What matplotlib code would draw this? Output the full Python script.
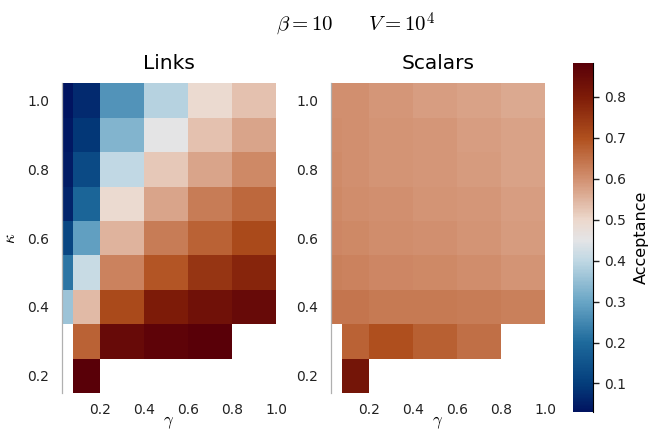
import numpy as np
import matplotlib
matplotlib.use("Agg")
import matplotlib.pyplot as plt
from matplotlib.colors import LinearSegmentedColormap, Normalize

plt.rcParams['mathtext.fontset'] = 'cm'
plt.rcParams['font.family'] = 'DejaVu Sans'

# grid centres
gamma = [0.05, 0.1, 0.3, 0.5, 0.7, 0.9]
kappa = [0.2, 0.3, 0.4, 0.5, 0.6, 0.7, 0.8, 0.9, 1.0]

nan = np.nan
# rows: kappa 0.2 -> 1.0, columns: gamma
links = [
    [nan, 0.88, nan, nan, nan, nan],
    [nan, 0.67, 0.85, 0.87, 0.88, nan],
    [0.36, 0.54, 0.71, 0.80, 0.83, 0.85],
    [0.22, 0.41, 0.62, 0.69, 0.75, 0.78],
    [0.12, 0.29, 0.55, 0.63, 0.67, 0.71],
    [0.06, 0.19, 0.49, 0.57, 0.63, 0.66],
    [0.045, 0.13, 0.40, 0.52, 0.57, 0.61],
    [0.04, 0.09, 0.33, 0.45, 0.53, 0.57],
    [0.031, 0.07, 0.27, 0.39, 0.49, 0.53],
]
scalars = [
    [nan, 0.82, nan, nan, nan, nan],
    [nan, 0.67, 0.70, 0.675, 0.65, nan],
    [0.64, 0.64, 0.635, 0.635, 0.63, 0.625],
    [0.625, 0.62, 0.615, 0.61, 0.605, 0.595],
    [0.615, 0.61, 0.605, 0.60, 0.595, 0.585],
    [0.61, 0.605, 0.60, 0.595, 0.59, 0.58],
    [0.607, 0.60, 0.595, 0.59, 0.585, 0.575],
    [0.605, 0.60, 0.595, 0.59, 0.58, 0.575],
    [0.60, 0.60, 0.59, 0.58, 0.575, 0.565],
]

vmin, vmax = 0.031, 0.882

# vik-like diverging map, anchors given in data units
anchors = [
    (0.031, '#011460'), (0.10, '#043e7c'), (0.20, '#1e6a9c'),
    (0.30, '#6aa6c6'), (0.40, '#c0d8e4'), (0.45, '#e4e4e6'),
    (0.50, '#ecd8cc'), (0.60, '#d29070'), (0.70, '#b0501e'),
    (0.80, '#7e1c08'), (0.882, '#590008'),
]
cmap = LinearSegmentedColormap.from_list(
    'vik', [((v - vmin) / (vmax - vmin), c) for v, c in anchors])
norm = Normalize(vmin=vmin, vmax=vmax)


def edges(c):
    c = np.asarray(c)
    mid = (c[1:] + c[:-1]) / 2
    return np.concatenate([[2 * c[0] - mid[0]], mid, [2 * c[-1] - mid[-1]]])


xe, ye = edges(gamma), edges(kappa)

fig = plt.figure(figsize=(6.52, 4.32), dpi=100)
ax1 = fig.add_axes([0.0946, 0.0903, 0.3287, 0.7169])
ax2 = fig.add_axes([0.5072, 0.0903, 0.3287, 0.7169])
cax = fig.add_axes([0.8784, 0.047, 0.0316, 0.8065])

for ax, data, title in [(ax1, links, 'Links'), (ax2, scalars, 'Scalars')]:
    z = np.ma.masked_invalid(np.array(data))
    mesh = ax.pcolormesh(xe, ye, z, cmap=cmap, norm=norm)
    ax.set_xlim(xe[0], xe[-1])
    ax.set_ylim(ye[0], ye[-1])
    ax.set_xticks([0.2, 0.4, 0.6, 0.8, 1.0])
    ax.set_yticks([0.2, 0.4, 0.6, 0.8, 1.0])
    ax.tick_params(length=0, labelsize=10, colors='#222222')
    ax.tick_params(axis='y', pad=9)
    ax.tick_params(axis='x', pad=7)
    for s in ['top', 'right', 'bottom']:
        ax.spines[s].set_visible(False)
    ax.spines['left'].set_color('#b0b0b0')
    ax.spines['left'].set_linewidth(0.9)
    ax.set_title(title, fontsize=14.5, pad=10)
    ax.set_xlabel(r'$\gamma$', fontsize=12, labelpad=-3)

ax1.set_ylabel(r'$\kappa$', fontsize=12, labelpad=6)

cb = fig.colorbar(mesh, cax=cax)
cb.outline.set_visible(False)
cax.spines['right'].set_visible(True)
cb.set_ticks([0.1, 0.2, 0.3, 0.4, 0.5, 0.6, 0.7, 0.8])
cax.tick_params(labelsize=10, length=4, width=1, colors='#222222')
cb.set_label('Acceptance', fontsize=11.5, labelpad=6)

fig.text(0.545, 0.945, r'$\beta = 10\qquad V = 10^4$', fontsize=15,
         ha='center', va='center')

fig.savefig('out.png', dpi=100)
